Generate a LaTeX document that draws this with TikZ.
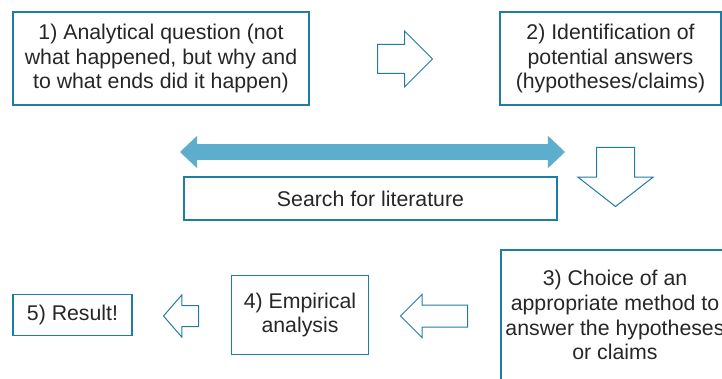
\documentclass[tikz,border=0pt]{standalone}
\usepackage{fontspec}
\setmainfont{Liberation Sans}
\usepackage{tikz}
\usetikzlibrary{positioning}
\usetikzlibrary{shapes.arrows}
\definecolor{boxblue}{RGB}{31,124,163}
\definecolor{arrowblue}{RGB}{93,173,205}
\tikzset{
    stage/.style={
           rectangle,
           draw=boxblue, line width=1.2pt,
           inner sep=2pt,
           align=center,
           text=black!85,
           font=\fontsize{21.3}{24.8}\selectfont,
           },
    openarrow/.style={
           single arrow,
           draw=boxblue, line width=1pt,
           inner xsep=0pt,
           anchor=tail,
           },
    bigarrow/.style={
           double arrow,
           fill=arrowblue,
           inner xsep=0pt,
           },
}
\begin{document}
\begin{tikzpicture}[x=1pt, y=-1pt, node distance=1cm, on grid]
   \useasboundingbox (0,0) rectangle (722,379);
   \node[stage, minimum width=296pt, minimum height=93pt] (1) at (161,58.5) {1) Analytical question (not\\what happened, but why and\\to what ends did it happen)};
   \node[stage, minimum width=221pt, minimum height=93pt] (2) [right=449.5pt of 1] {2) Identification of\\potential answers\\(hypotheses/claims)};
   \node[stage, minimum width=373pt, minimum height=43pt] (lit) at (370.5,198.5) {Search for literature};
   \node[stage, minimum width=228pt, minimum height=130pt] (3) at (615,315) {3) Choice of an\\appropriate method to\\answer the hypotheses\\or claims};
   \node[stage, minimum width=137pt, minimum height=79pt] (4) [left=315pt of 3] {4) Empirical\\analysis};
   \node[stage, minimum width=119pt, minimum height=41pt] (5) [left=227.5pt of 4] {5) Result!};

   % block arrows between the stages
   \node[openarrow, minimum height=55pt, inner ysep=14pt,
         single arrow head extend=13.5pt, single arrow tip angle=90] (a12) at (377,59) {};
   \node[openarrow, shape border rotate=270, minimum height=59pt, inner xsep=18.5pt, inner ysep=0pt,
         single arrow head extend=18.5pt, single arrow tip angle=104] (a23) at (615.5,147) {};
   \node[openarrow, shape border rotate=180, minimum height=67pt, inner ysep=10.5pt,
         single arrow head extend=10.5pt, single arrow tip angle=90] (a34) at (468,316) {};
   \node[openarrow, shape border rotate=180, minimum height=35pt, inner ysep=10pt,
         single arrow head extend=10.5pt, single arrow tip angle=98] (a45) at (199,316) {};
   \node[bigarrow, minimum height=385pt, inner ysep=7.75pt,
         double arrow head extend=8.25pt, double arrow tip angle=87] (alit) at (372.5,152) {};
\end{tikzpicture}
\end{document}
